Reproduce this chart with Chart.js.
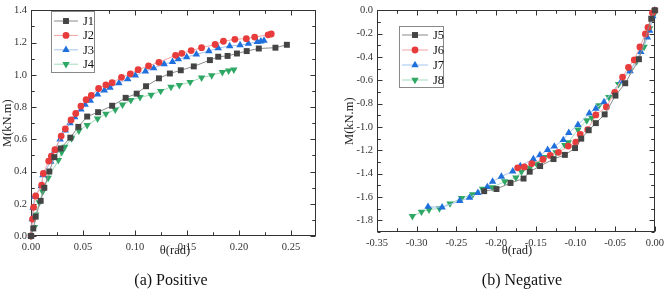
<!DOCTYPE html>
<html>
<head>
<meta charset="utf-8">
<script src="https://cdn.jsdelivr.net/npm/chart.js@4.4.1/dist/chart.umd.min.js"></script>
<style>
body { margin: 0; background: #fff; width: 669px; height: 291px; position: relative; overflow: hidden;
       font-family: 'Liberation Serif', 'Times New Roman', serif; }
.box { position: absolute; top: 0; height: 291px; }
#boxA { left: 0; width: 330px; }
#boxB { left: 335px; width: 334px; }
.lbl { position: absolute; color: #222; white-space: nowrap; transform: translate(-50%, -50%); }
.cap { font-size: 16px; color: #111; }
.xt { font-size: 12.5px; }
</style>
</head>
<body>
<div class="box" id="boxA"><canvas id="chartA" width="330" height="291"></canvas></div>
<div class="box" id="boxB"><canvas id="chartB" width="334" height="291"></canvas></div>
<div class="lbl xt" style="left:175px;top:250px">θ(rad)</div>
<div class="lbl xt" style="left:517px;top:250px">θ(rad)</div>
<div class="lbl cap" style="left:171px;top:280px">(a) Positive</div>
<div class="lbl cap" style="left:522px;top:280px">(b) Negative</div>
<script>
// positive loading, rotation (rad) vs moment (kN.m)
const j1Theta = [0, 0.0022, 0.0045, 0.0093, 0.0128, 0.0176, 0.0225, 0.0285, 0.0378, 0.0455, 0.054, 0.0645, 0.078, 0.091, 0.1016, 0.1106, 0.123, 0.1335, 0.144, 0.1565, 0.172, 0.18, 0.189, 0.198, 0.2074, 0.219, 0.235, 0.246];
const j1M = [0, 0.047, 0.12, 0.218, 0.299, 0.40, 0.489, 0.543, 0.61, 0.677, 0.741, 0.768, 0.808, 0.857, 0.883, 0.929, 0.978, 1.008, 1.028, 1.052, 1.091, 1.112, 1.117, 1.132, 1.147, 1.163, 1.168, 1.186];
const j2Theta = [0, 0.0015, 0.0025, 0.0045, 0.0103, 0.0119, 0.017, 0.0196, 0.023, 0.029, 0.033, 0.0385, 0.043, 0.048, 0.053, 0.058, 0.065, 0.072, 0.078, 0.087, 0.0955, 0.103, 0.113, 0.123, 0.139, 0.145, 0.154, 0.164, 0.177, 0.185, 0.196, 0.207, 0.215, 0.228, 0.231];
const j2M = [0, 0.105, 0.178, 0.248, 0.315, 0.388, 0.465, 0.495, 0.535, 0.62, 0.665, 0.72, 0.76, 0.806, 0.845, 0.872, 0.915, 0.937, 0.951, 0.984, 1.006, 1.032, 1.055, 1.077, 1.121, 1.133, 1.15, 1.168, 1.188, 1.208, 1.22, 1.224, 1.234, 1.248, 1.253];
const j3Theta = [0, 0.0013, 0.002, 0.0035, 0.0099, 0.0115, 0.019, 0.0228, 0.028, 0.033, 0.0375, 0.042, 0.048, 0.052, 0.057, 0.064, 0.0705, 0.076, 0.0845, 0.093, 0.1003, 0.11, 0.118, 0.128, 0.136, 0.1416, 0.1497, 0.159, 0.171, 0.18, 0.191, 0.201, 0.209, 0.2176, 0.221, 0.224];
const j3M = [0, 0.105, 0.175, 0.245, 0.31, 0.378, 0.462, 0.53, 0.6, 0.655, 0.70, 0.737, 0.785, 0.815, 0.84, 0.878, 0.903, 0.92, 0.948, 0.974, 0.996, 1.021, 1.041, 1.067, 1.08, 1.097, 1.11, 1.127, 1.147, 1.166, 1.178, 1.184, 1.193, 1.204, 1.208, 1.212];
const j4Theta = [0, 0.0032, 0.0045, 0.008, 0.0112, 0.0165, 0.0263, 0.0295, 0.0325, 0.039, 0.046, 0.054, 0.064, 0.072, 0.081, 0.088, 0.096, 0.1048, 0.1155, 0.1247, 0.1346, 0.1426, 0.153, 0.164, 0.1737, 0.184, 0.19, 0.195];
const j4M = [0, 0.055, 0.133, 0.208, 0.275, 0.36, 0.47, 0.52, 0.552, 0.605, 0.653, 0.688, 0.728, 0.758, 0.784, 0.814, 0.842, 0.861, 0.875, 0.899, 0.925, 0.935, 0.955, 0.982, 0.996, 1.016, 1.026, 1.032];

// negative loading
const j5Theta = [0, -0.0045, -0.02, -0.0373, -0.0496, -0.0632, -0.0743, -0.0833, -0.0927, -0.1005, -0.1133, -0.1276, -0.1445, -0.1576, -0.1654, -0.1818, -0.1995, -0.215];
const j5M = [0, -0.072, -0.419, -0.625, -0.731, -0.892, -0.967, -1.028, -1.10, -1.181, -1.239, -1.275, -1.335, -1.383, -1.442, -1.48, -1.532, -1.55];
const j6Theta = [0, -0.003, -0.0086, -0.0119, -0.0188, -0.0259, -0.0332, -0.0406, -0.0505, -0.061, -0.0743, -0.0845, -0.094, -0.0995, -0.109, -0.1214, -0.1318, -0.141, -0.155, -0.1645, -0.1728];
const j6M = [0, -0.022, -0.147, -0.203, -0.314, -0.425, -0.489, -0.572, -0.703, -0.828, -0.897, -1.022, -1.064, -1.13, -1.164, -1.217, -1.244, -1.278, -1.314, -1.342, -1.35];
const j7Theta = [0, -0.0025, -0.0065, -0.0094, -0.0176, -0.0312, -0.0422, -0.064, -0.0743, -0.0825, -0.0968, -0.1084, -0.1153, -0.1266, -0.135, -0.1448, -0.153, -0.1695, -0.179, -0.1933, -0.2044, -0.211, -0.2229, -0.2335, -0.2458, -0.268, -0.2857];
const j7M = [0, -0.05, -0.175, -0.231, -0.356, -0.522, -0.606, -0.786, -0.842, -0.883, -0.981, -1.05, -1.111, -1.167, -1.196, -1.24, -1.275, -1.335, -1.38, -1.425, -1.467, -1.514, -1.564, -1.606, -1.633, -1.689, -1.683];
const j8Theta = [0, -0.0012, -0.0065, -0.0135, -0.023, -0.032, -0.0456, -0.0579, -0.0702, -0.0792, -0.0857, -0.0968, -0.109, -0.1133, -0.1244, -0.138, -0.149, -0.1576, -0.168, -0.175, -0.189, -0.2048, -0.217, -0.2294, -0.2434, -0.258, -0.2713, -0.2845, -0.294, -0.3054];
const j8M = [0, -0.036, -0.156, -0.314, -0.439, -0.514, -0.633, -0.744, -0.814, -0.925, -0.944, -1.022, -1.133, -1.156, -1.217, -1.258, -1.314, -1.35, -1.383, -1.435, -1.467, -1.517, -1.53, -1.578, -1.61, -1.656, -1.698, -1.708, -1.727, -1.765];

// tick labels
const posXTicks = [0, 0.05, 0.10, 0.15, 0.20, 0.25];
const posYTicks = [0, 0.2, 0.4, 0.6, 0.8, 1.0, 1.2, 1.4];
const negXTicks = [-0.35, -0.30, -0.25, -0.20, -0.15, -0.10, -0.05, 0];
const negYTicks = [-1.8, -1.6, -1.4, -1.2, -1.0, -0.8, -0.6, -0.4, -0.2, 0];

const FONT = "'Liberation Serif', 'Times New Roman', serif";

function pts(xs, ys) {
    return xs.map((v, i) => ({ x: v, y: ys[i] }));
}

function series(label, xs, ys, color, lineColor, style, rot) {
    return {
        label: label,
        data: pts(xs, ys),
        showLine: true,
        borderColor: lineColor,
        borderWidth: 1,
        pointStyle: style,
        rotation: rot || 0,
        pointRadius: style === 'rect' ? 4.2 : (style === 'circle' ? 3.4 : 4.3),
        pointBackgroundColor: color,
        pointBorderColor: color,
        pointBorderWidth: 0,
        markColor: color,
        clip: false
    };
}

// frame with inward ticks on all four sides
const framePlugin = {
    id: 'frame',
    beforeDatasetsDraw(chart, args, opts) {
        const ctx = chart.ctx, a = chart.chartArea;
        const xs = chart.scales.x, ys = chart.scales.y;
        const L = Math.round(a.left) + 0.5, R = Math.round(a.right) - 0.5;
        const T = Math.round(a.top) + 0.5, B = Math.round(a.bottom) - 0.5;
        ctx.save();
        ctx.strokeStyle = '#333';
        ctx.lineWidth = 1;
        ctx.strokeRect(L, T, R - L, B - T);
        ctx.beginPath();
        const xt = opts.xTicks, yt = opts.yTicks;
        const xs2 = (xt[1] - xt[0]) / 2, ys2 = (yt[1] - yt[0]) / 2;
        const xAll = [], yAll = [];
        xt.forEach(v => { xAll.push([v, 5]); xAll.push([v + xs2, 3]); xAll.push([v - xs2, 3]); });
        yt.forEach(v => { yAll.push([v, 5]); yAll.push([v + ys2, 3]); yAll.push([v - ys2, 3]); });
        xAll.forEach(([v, len]) => {
            if (v < xs.min - 1e-9 || v > xs.max + 1e-9) return;
            const p = Math.round(xs.getPixelForValue(v)) + 0.5;
            ctx.moveTo(p, B); ctx.lineTo(p, B - len);
            ctx.moveTo(p, T); ctx.lineTo(p, T + len);
        });
        yAll.forEach(([v, len]) => {
            if (v < ys.min - 1e-9 || v > ys.max + 1e-9) return;
            const p = Math.round(ys.getPixelForValue(v)) + 0.5;
            ctx.moveTo(L, p); ctx.lineTo(L + len, p);
            ctx.moveTo(R, p); ctx.lineTo(R - len, p);
        });
        ctx.stroke();
        ctx.restore();
    }
};

// boxed legend with line + marker samples
const boxLegend = {
    id: 'boxLegend',
    afterDraw(chart, args, o) {
        const ctx = chart.ctx;
        ctx.save();
        ctx.fillStyle = '#fff';
        ctx.fillRect(o.x, o.y, o.w, o.h);
        ctx.strokeStyle = '#888';
        ctx.lineWidth = 1;
        ctx.strokeRect(o.x + 0.5, o.y + 0.5, o.w, o.h);
        chart.data.datasets.forEach((ds, i) => {
            const cy = o.y + o.first + i * o.row;
            ctx.strokeStyle = ds.borderColor;
            ctx.beginPath();
            ctx.moveTo(o.x + 3, cy + 0.5);
            ctx.lineTo(o.x + 3 + o.line, cy + 0.5);
            ctx.stroke();
            ctx.fillStyle = ds.markColor;
            Chart.helpers.drawPoint(ctx, {
                pointStyle: ds.pointStyle, rotation: ds.rotation,
                radius: ds.pointRadius, borderWidth: 0
            }, o.x + 3 + o.line / 2, cy + 0.5);
            ctx.fillStyle = '#111';
            ctx.font = '12.5px ' + FONT;
            ctx.textBaseline = 'middle';
            ctx.textAlign = 'left';
            ctx.fillText(ds.label, o.x + o.line + 8, cy + 1);
        });
        ctx.restore();
    }
};

function axes(xMin, xMax, yMin, yMax, xTicks, yTicks, xDec, yDec, yWidth, xHeight, titlePad) {
    const tickFont = { family: FONT, size: 10.5 };
    return {
        x: {
            type: 'linear', min: xMin, max: xMax,
            grid: { display: false, drawTicks: false },
            border: { display: false },
            afterBuildTicks: s => { s.ticks = xTicks.map(v => ({ value: v })); },
            afterFit: s => { s.height = xHeight; },
            ticks: { color: '#333', font: tickFont, padding: 5, maxRotation: 0, autoSkip: false,
                     callback: v => Number(v).toFixed(xDec) }
        },
        y: {
            type: 'linear', min: yMin, max: yMax,
            grid: { display: false, drawTicks: false },
            border: { display: false },
            afterBuildTicks: s => { s.ticks = yTicks.map(v => ({ value: v })); },
            afterFit: s => { s.width = yWidth; },
            title: { display: true, text: 'M(kN.m)', color: '#222', font: { family: FONT, size: 12.5 },
                     padding: { top: titlePad, bottom: 0 } },
            ticks: { color: '#333', font: tickFont, padding: 4, autoSkip: false,
                     callback: v => Number(v).toFixed(yDec) }
        }
    };
}

function commonOptions(scales, pad, legendBox, xTicks, yTicks) {
    return {
        responsive: false,
        animation: false,
        devicePixelRatio: 1,
        layout: { padding: pad },
        scales: scales,
        plugins: {
            legend: { display: false },
            tooltip: { enabled: false },
            frame: { xTicks: xTicks, yTicks: yTicks },
            boxLegend: legendBox
        }
    };
}

new Chart(document.getElementById('chartA'), {
    type: 'scatter',
    data: {
        datasets: [
            series('J1', j1Theta, j1M, '#444444', '#8a8a8a', 'rect'),
            series('J2', j2Theta, j2M, '#e83b3b', '#f2a3a3', 'circle'),
            series('J3', j3Theta, j3M, '#1f6fdc', '#a3c3ef', 'triangle'),
            series('J4', j4Theta, j4M, '#2fa866', '#a6dbbb', 'triangle', 180)
        ]
    },
    options: commonOptions(
        axes(0, 0.274, 0, 1.4, posXTicks, posYTicks, 2, 1, 31, 55, 0),
        { top: 5, right: 14, bottom: 0, left: 0 },
        { x: 51, y: 11, w: 43, h: 61, first: 9.5, row: 14.4, line: 24 },
        posXTicks, posYTicks),
    plugins: [framePlugin, boxLegend]
});

new Chart(document.getElementById('chartB'), {
    type: 'scatter',
    data: {
        datasets: [
            series('J5', j5Theta, j5M, '#444444', '#8a8a8a', 'rect'),
            series('J6', j6Theta, j6M, '#e83b3b', '#f2a3a3', 'circle'),
            series('J7', j7Theta, j7M, '#1f6fdc', '#a3c3ef', 'triangle'),
            series('J8', j8Theta, j8M, '#2fa866', '#a6dbbb', 'triangle', 180)
        ]
    },
    options: commonOptions(
        axes(-0.35, 0, -1.9, 0, negXTicks, negYTicks, 2, 1, 42, 59, 7),
        { top: 4, right: 8, bottom: 0, left: 0 },
        { x: 64, y: 26, w: 44, h: 61, first: 8.5, row: 15, line: 26 },
        negXTicks, negYTicks),
    plugins: [framePlugin, boxLegend]
});
</script>
</body>
</html>
